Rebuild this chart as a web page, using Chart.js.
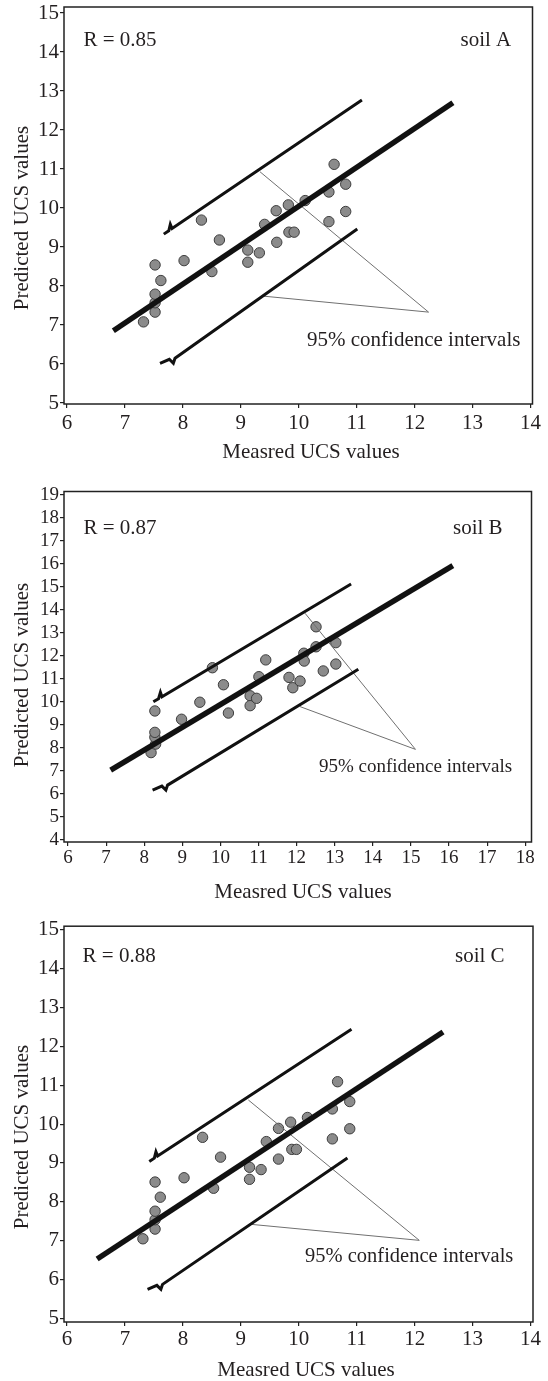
<!DOCTYPE html>
<html>
<head>
<meta charset="utf-8">
<title>Measured vs predicted UCS</title>
<script src="https://cdn.jsdelivr.net/npm/chart.js@4.4.1/dist/chart.umd.min.js"></script>
<style>
  html, body { margin: 0; padding: 0; background: #ffffff; width: 548px; height: 1381px; overflow: hidden; }
  .panel { position: absolute; left: 0; width: 548px; }
  canvas { display: block; }
</style>
</head>
<body>
<div class="panel" style="top:0;height:460px"><canvas id="soilA" width="548" height="460"></canvas></div>
<div class="panel" style="top:460px;height:460px"><canvas id="soilB" width="548" height="460"></canvas></div>
<div class="panel" style="top:920px;height:461px"><canvas id="soilC" width="548" height="461"></canvas></div>
<script>
// ---- soil A ----
const xTicksA = [6, 7, 8, 9, 10, 11, 12, 13, 14];
const yTicksA = [5, 6, 7, 8, 9, 10, 11, 12, 13, 14, 15];
const measuredA  = [7.32, 7.52, 7.52, 7.52, 7.52, 7.62, 8.02, 8.32, 8.50, 8.63, 9.12, 9.12, 9.32,
                    9.41, 9.61, 9.62, 9.82, 9.83, 9.92, 10.11, 10.52, 10.52, 10.61, 10.81, 10.81];
const predictedA = [7.08, 7.33, 7.57, 7.79, 8.54, 8.14, 8.65, 9.69, 8.37, 9.18, 8.92, 8.61, 8.85,
                    9.58, 9.93, 9.12, 10.08, 9.38, 9.38, 10.19, 10.41, 9.65, 11.12, 10.61, 9.91];
const fitLineA   = [[6.80, 6.85], [12.66, 12.70]];
const upperBandA = [[7.67, 9.33], [7.756, 9.416], [7.783, 9.582], [7.813, 9.473], [11.09, 12.77]];
const lowerBandA = [[7.605, 6.018], [7.766, 6.12], [7.835, 6.018], [7.864, 6.146], [11.01, 9.46]];
const leaderA    = [[9.33, 10.93], [12.24, 7.33], [9.39, 7.74]];

// ---- soil B ----
const xTicksB = [6, 7, 8, 9, 10, 11, 12, 13, 14, 15, 16, 17, 18];
const yTicksB = [4, 5, 6, 7, 8, 9, 10, 11, 12, 13, 14, 15, 16, 17, 18, 19];
const measuredB  = [8.18, 8.30, 8.28, 8.28, 8.28, 8.98, 9.46, 9.79, 10.08, 10.21, 10.78, 10.78, 10.95,
                    11.01, 11.19, 11.80, 11.90, 12.09, 12.19, 12.20, 12.51, 12.51, 12.70, 13.03, 13.03];
const predictedB = [7.80, 8.17, 8.47, 8.68, 9.61, 9.25, 9.99, 11.49, 10.75, 9.52, 10.27, 9.84, 10.16,
                    11.10, 11.83, 11.07, 10.62, 10.91, 12.12, 11.78, 12.40, 13.27, 11.35, 12.58, 11.65];
const fitLineB   = [[7.12, 7.04], [16.10, 15.93]];
const upperBandB = [[8.24, 10.01], [8.376, 10.143], [8.426, 10.419], [8.466, 10.231], [13.43, 15.13]];
const lowerBandB = [[8.22, 6.17], [8.464, 6.344], [8.569, 6.170], [8.614, 6.387], [13.62, 11.42]];
const leaderB    = [[12.22, 13.86], [15.12, 7.94], [12.09, 9.80]];

// ---- soil C ----
const xTicksC = [6, 7, 8, 9, 10, 11, 12, 13, 14];
const yTicksC = [5, 6, 7, 8, 9, 10, 11, 12, 13, 14, 15];
const measuredC  = [7.31, 7.52, 7.52, 7.52, 7.52, 7.61, 8.02, 8.34, 8.53, 8.65, 9.15, 9.15, 9.35,
                    9.44, 9.65, 9.65, 9.86, 9.88, 9.96, 10.15, 10.58, 10.58, 10.67, 10.88, 10.88];
const predictedC = [7.05, 7.30, 7.54, 7.76, 8.51, 8.12, 8.62, 9.66, 8.35, 9.15, 8.89, 8.58, 8.83,
                    9.55, 9.89, 9.10, 10.05, 9.35, 9.35, 10.17, 10.39, 9.62, 11.09, 10.58, 9.88];
const fitLineC   = [[6.52, 6.53], [12.49, 12.37]];
const upperBandC = [[7.42, 9.04], [7.507, 9.124], [7.535, 9.289], [7.564, 9.181], [10.91, 12.44]];
const lowerBandC = [[7.39, 5.75], [7.551, 5.852], [7.620, 5.750], [7.649, 5.878], [10.84, 9.13]];
const leaderC    = [[9.13, 10.62], [12.08, 7.01], [9.19, 7.42]];

const SERIF = "'Liberation Serif', 'DejaVu Serif', serif";
const INK = '#231f20';

function toPoints(pairs) {
  return pairs.map(([x, y]) => ({ x, y }));
}

function lineSet(pairs, width, color, order) {
  return {
    type: 'scatter',
    data: toPoints(pairs),
    showLine: true,
    borderColor: color,
    borderWidth: width,
    pointRadius: 0,
    pointHoverRadius: 0,
    fill: false,
    tension: 0,
    borderCapStyle: 'butt',
    borderJoinStyle: 'miter',
    order
  };
}

// Box around the plot area plus the free-standing texts of a panel.
function panelDecor(texts) {
  return {
    id: 'panelDecor',
    afterDraw(chart) {
      const { ctx, chartArea: a } = chart;
      ctx.save();
      ctx.strokeStyle = '#222';
      ctx.lineWidth = 1.5;
      ctx.strokeRect(a.left, a.top, a.right - a.left, a.bottom - a.top);
      ctx.fillStyle = INK;
      texts.forEach(t => {
        ctx.font = t.size + 'px ' + SERIF;
        ctx.textAlign = t.align;
        ctx.textBaseline = 'middle';
        if (t.rotate) {
          ctx.save();
          ctx.translate(t.x, t.y);
          ctx.rotate(-Math.PI / 2);
          ctx.fillText(t.text, 0, 0);
          ctx.restore();
        } else {
          ctx.fillText(t.text, t.x, t.y);
        }
      });
      ctx.restore();
    }
  };
}

function drawPanel(id, d, lay) {
  const pts = d.measured.map((m, i) => ({ x: m, y: d.predicted[i] }));
  const tickFont = { family: SERIF, size: lay.tickSize };
  new Chart(document.getElementById(id), {
    type: 'scatter',
    data: {
      datasets: [
        {
          data: pts,
          pointRadius: 5.2,
          pointBackgroundColor: '#8b8b8b',
          pointBorderColor: '#3d3d3d',
          pointBorderWidth: 1,
          order: 5
        },
        lineSet(d.leader, 1, '#707070', 4),
        lineSet(d.upper, 3, '#111111', 2),
        lineSet(d.lower, 3, '#111111', 2),
        lineSet(d.fit, 5.5, '#111111', 1)
      ]
    },
    options: {
      responsive: false,
      animation: false,
      events: [],
      layout: { padding: { top: lay.top, right: lay.right, bottom: 0, left: 0 } },
      plugins: { legend: { display: false }, tooltip: { enabled: false } },
      scales: {
        x: {
          type: 'linear',
          min: lay.xMin,
          max: lay.xMax,
          afterBuildTicks: s => { s.ticks = d.xTicks.map(v => ({ value: v })); },
          afterFit: s => { s.height = lay.xAxisH; s.paddingLeft = 0; s.paddingRight = 0; },
          ticks: { font: tickFont, color: INK, padding: lay.xPad, maxRotation: 0, autoSkip: false },
          grid: { drawOnChartArea: false, drawTicks: true, tickLength: 4, color: '#222', lineWidth: 1.2 },
          border: { display: false }
        },
        y: {
          type: 'linear',
          min: lay.yMin,
          max: lay.yMax,
          afterBuildTicks: s => { s.ticks = d.yTicks.map(v => ({ value: v })); },
          afterFit: s => { s.width = 64; s.paddingTop = 0; s.paddingBottom = 0; },
          ticks: { font: tickFont, color: INK, padding: 1, autoSkip: false },
          grid: { drawOnChartArea: false, drawTicks: true, tickLength: 4, color: '#222', lineWidth: 1.2 },
          border: { display: false }
        }
      }
    },
    plugins: [panelDecor(lay.texts)]
  });
}

drawPanel('soilA',
  { measured: measuredA, predicted: predictedA, fit: fitLineA, upper: upperBandA,
    lower: lowerBandA, leader: leaderA, xTicks: xTicksA, yTicks: yTicksA },
  { top: 7, right: 15.5, xAxisH: 56, xPad: 3, tickSize: 21,
    xMin: 5.948, xMax: 14.034, yMin: 4.974, yMax: 15.154,
    texts: [
      { text: 'R = 0.85', x: 83.5, y: 40, align: 'left', size: 21 },
      { text: 'soil A', x: 460.5, y: 40, align: 'left', size: 21 },
      { text: '95% confidence intervals', x: 307, y: 340, align: 'left', size: 21 },
      { text: 'Measred UCS values', x: 311, y: 452, align: 'center', size: 21 },
      { text: 'Predicted UCS values', x: 22.6, y: 218, align: 'center', size: 21, rotate: true }
    ] });

drawPanel('soilB',
  { measured: measuredB, predicted: predictedB, fit: fitLineB, upper: upperBandB,
    lower: lowerBandB, leader: leaderB, xTicks: xTicksB, yTicks: yTicksB },
  { top: 31.5, right: 16.5, xAxisH: 78, xPad: 1, tickSize: 19,
    xMin: 5.895, xMax: 18.165, yMin: 3.913, yMax: 19.152,
    texts: [
      { text: 'R = 0.87', x: 83.5, y: 68.3, align: 'left', size: 21 },
      { text: 'soil B', x: 453, y: 68, align: 'left', size: 21 },
      { text: '95% confidence intervals', x: 319, y: 306.7, align: 'left', size: 19 },
      { text: 'Measred UCS values', x: 303, y: 432.5, align: 'center', size: 21 },
      { text: 'Predicted UCS values', x: 22.6, y: 215, align: 'center', size: 21, rotate: true }
    ] });

drawPanel('soilC',
  { measured: measuredC, predicted: predictedC, fit: fitLineC, upper: upperBandC,
    lower: lowerBandC, leader: leaderC, xTicks: xTicksC, yTicks: yTicksC },
  { top: 5, right: 15, xAxisH: 59, xPad: 1, tickSize: 21,
    xMin: 5.948, xMax: 14.043, yMin: 4.910, yMax: 15.090,
    texts: [
      { text: 'R = 0.88', x: 82.6, y: 36.7, align: 'left', size: 21 },
      { text: 'soil C', x: 455, y: 36.7, align: 'left', size: 21 },
      { text: '95% confidence intervals', x: 305, y: 336.7, align: 'left', size: 20.5 },
      { text: 'Measred UCS values', x: 306, y: 450, align: 'center', size: 21 },
      { text: 'Predicted UCS values', x: 22.6, y: 217, align: 'center', size: 21, rotate: true }
    ] });
</script>
</body>
</html>
